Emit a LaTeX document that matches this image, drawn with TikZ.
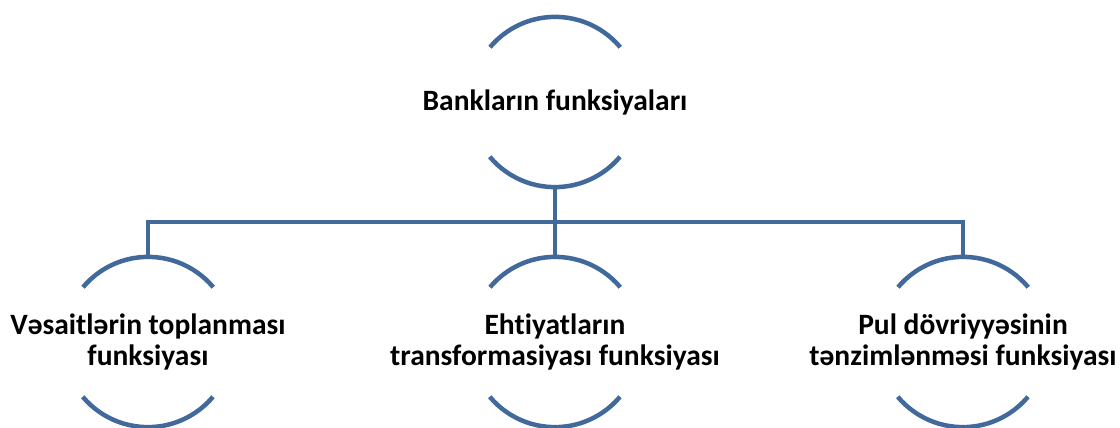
\documentclass[tikz,border=0pt]{standalone}
\usepackage{fontspec}
\setmainfont[Ligatures={NoCommon}]{Carlito}
\definecolor{arcblue}{RGB}{65,105,155}
\tikzset{
  ring/.style={circle, minimum size=170pt, inner sep=0pt, draw=none},
  lbl/.style={font=\bfseries\fontsize{29.5}{31.5}\selectfont, align=center, text=black, inner sep=0pt},
  ln/.style={draw=arcblue, line width=4.5pt},
}
\begin{document}
\begin{tikzpicture}[x=1pt,y=-1pt]
\useasboundingbox (0,0) rectangle (1120,428);
\node[ring] (top) at (555,102) {};
\node[ring] (c1) at (148,342) {};
\node[ring] (c2) at (555,342) {};
\node[ring] (c3) at (963,342) {};
\node[lbl] (t0) at (top) {Bankların funksiyaları};
\node[lbl] (t1) at (c1) {Vəsaitlərin toplanması\\funksiyası};
\node[lbl] (t2) at (c2) {Ehtiyatların\\transformasiyası funksiyası};
\node[lbl] (t3) at (c3) {Pul dövriyyəsinin\\tənzimlənməsi funksiyası};
\foreach \n in {top,c1,c2,c3}{
  \draw[ln] (\n.40) arc[start angle=40,end angle=140,radius=85pt];
  \draw[ln] (\n.220) arc[start angle=220,end angle=320,radius=85pt];
}
\coordinate (bus) at (555,222);
\draw[ln] (top.south) -- (bus);
\draw[ln] (c1.north) |- (bus) -| (c3.north);
\draw[ln] (bus) -- (c2.north);
\end{tikzpicture}
\end{document}
